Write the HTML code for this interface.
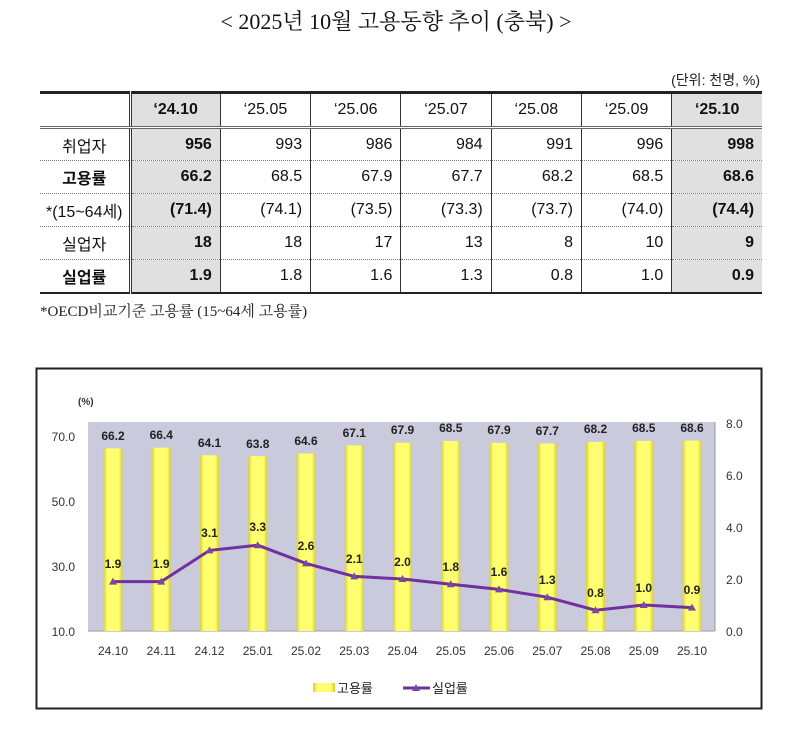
<!DOCTYPE html>
<html><head><meta charset="utf-8"><style>
body{margin:0;width:792px;height:731px;background:#fff;position:relative;overflow:hidden;font-family:"Liberation Sans","Noto Sans CJK KR",sans-serif;}
.title{position:absolute;top:5px;left:0;width:792px;text-align:center;font-family:"Liberation Serif","Noto Serif CJK KR",serif;font-size:22px;color:#111;}
.unit{position:absolute;top:70px;right:32px;font-size:14px;color:#222;}
table{position:absolute;left:40px;top:91px;border-collapse:collapse;font-size:16px;color:#111;table-layout:fixed;width:722px;}
td{height:33px;padding:0 8px;text-align:right;border-left:1px solid #333;border-bottom:1px dotted #777;box-sizing:border-box;white-space:nowrap;overflow:hidden;}
td.h{text-align:center;border-left:none;padding:0;}
tr.hd td{text-align:center;border-bottom:3px double #666;height:35px;}
tr.first{border-top:3px solid #222;}
tr.last td{border-bottom:2px solid #222;}
td.g{background:#e0e0e0;font-weight:bold;}
td.sep{border-left:3px double #333;}
.b{font-weight:bold;}
.note{position:absolute;top:300px;left:40px;font-family:"Liberation Serif","Noto Serif CJK KR",serif;font-size:15px;color:#222;}
svg{position:absolute;left:0;top:0;}
</style></head><body>
<div class="title">&lt; 2025년 10월 고용동향 추이 (충북) &gt;</div>
<div class="unit">(단위: 천명, %)</div>
<table>
<colgroup><col style="width:90px"><col span="7" style="width:90.3px"></colgroup>
<tr class="hd first"><td class="h"></td><td class="g sep">‘24.10</td><td>‘25.05</td><td>‘25.06</td><td>‘25.07</td><td>‘25.08</td><td>‘25.09</td><td class="g">‘25.10</td></tr>
<tr><td class="h">취업자</td><td class="g sep">956</td><td>993</td><td>986</td><td>984</td><td>991</td><td>996</td><td class="g">998</td></tr>
<tr><td class="h b">고용률</td><td class="g sep">66.2</td><td>68.5</td><td>67.9</td><td>67.7</td><td>68.2</td><td>68.5</td><td class="g">68.6</td></tr>
<tr><td class="h">*(15~64세)</td><td class="g sep">(71.4)</td><td>(74.1)</td><td>(73.5)</td><td>(73.3)</td><td>(73.7)</td><td>(74.0)</td><td class="g">(74.4)</td></tr>
<tr><td class="h">실업자</td><td class="g sep">18</td><td>18</td><td>17</td><td>13</td><td>8</td><td>10</td><td class="g">9</td></tr>
<tr class="last"><td class="h b">실업률</td><td class="g sep">1.9</td><td>1.8</td><td>1.6</td><td>1.3</td><td>0.8</td><td>1.0</td><td class="g">0.9</td></tr>
</table>
<div class="note">*OECD비교기준 고용률 (15~64세 고용률)</div>
<svg width="792" height="731" font-family="Liberation Sans, Noto Sans CJK KR, sans-serif">
<defs><linearGradient id="yb" x1="0" x2="1"><stop offset="0" stop-color="#d8cc40"/><stop offset="0.2" stop-color="#ffff70"/><stop offset="0.8" stop-color="#ffff70"/><stop offset="1" stop-color="#d8cc40"/></linearGradient></defs>
<rect x="36.5" y="368.5" width="725" height="340" fill="#fff" stroke="#222" stroke-width="2"/>
<rect x="88" y="422" width="627" height="209" fill="#c9cbdd"/>
<line x1="88" y1="631" x2="715" y2="631" stroke="#999"/>
<line x1="715" y1="422" x2="715" y2="631" stroke="#999"/>
<text x="78" y="405" font-size="10" font-weight="bold" fill="#333">(%)</text>
<g font-size="12" fill="#333" text-anchor="end">
<text x="75" y="441">70.0</text><text x="75" y="506">50.0</text><text x="75" y="571">30.0</text><text x="75" y="636">10.0</text></g>
<g font-size="12" fill="#333">
<text x="726" y="428">8.0</text><text x="726" y="480">6.0</text><text x="726" y="532">4.0</text><text x="726" y="584">2.0</text><text x="726" y="636">0.0</text></g>
<g fill="url(#yb)">
<rect x="103.5" y="448.35" width="19" height="182.65"/>
<rect x="151.75" y="447.7" width="19" height="183.3"/>
<rect x="200" y="455.2" width="19" height="175.8"/>
<rect x="248.25" y="456.15" width="19" height="174.85"/>
<rect x="296.5" y="453.55" width="19" height="177.45"/>
<rect x="344.75" y="445.4" width="19" height="185.6"/>
<rect x="393" y="442.8" width="19" height="188.2"/>
<rect x="441.25" y="440.9" width="19" height="190.1"/>
<rect x="489.5" y="442.8" width="19" height="188.2"/>
<rect x="537.75" y="443.5" width="19" height="187.5"/>
<rect x="586" y="441.85" width="19" height="189.15"/>
<rect x="634.25" y="440.9" width="19" height="190.1"/>
<rect x="682.5" y="440.55" width="19" height="190.45"/>
</g>
<g font-size="12" font-weight="bold" text-anchor="middle" fill="#222">
<text x="113" y="440">66.2</text>
<text x="161.25" y="439">66.4</text>
<text x="209.5" y="447">64.1</text>
<text x="257.75" y="448">63.8</text>
<text x="306" y="445">64.6</text>
<text x="354.25" y="437">67.1</text>
<text x="402.5" y="434">67.9</text>
<text x="450.75" y="432">68.5</text>
<text x="499" y="434">67.9</text>
<text x="547.25" y="435">67.7</text>
<text x="595.5" y="433">68.2</text>
<text x="643.75" y="432">68.5</text>
<text x="692" y="432">68.6</text>
<text x="113" y="568">1.9</text>
<text x="161.25" y="568">1.9</text>
<text x="209.5" y="537">3.1</text>
<text x="257.75" y="531">3.3</text>
<text x="306" y="550">2.6</text>
<text x="354.25" y="563">2.1</text>
<text x="402.5" y="566">2.0</text>
<text x="450.75" y="571">1.8</text>
<text x="499" y="576">1.6</text>
<text x="547.25" y="584">1.3</text>
<text x="595.5" y="597">0.8</text>
<text x="643.75" y="592">1.0</text>
<text x="692" y="594">0.9</text>
</g>
<g font-size="12" text-anchor="middle" fill="#333">
<text x="113" y="655">24.10</text><text x="161.25" y="655">24.11</text><text x="209.5" y="655">24.12</text><text x="257.75" y="655">25.01</text><text x="306" y="655">25.02</text><text x="354.25" y="655">25.03</text><text x="402.5" y="655">25.04</text><text x="450.75" y="655">25.05</text><text x="499" y="655">25.06</text><text x="547.25" y="655">25.07</text><text x="595.5" y="655">25.08</text><text x="643.75" y="655">25.09</text><text x="692" y="655">25.10</text>
</g>
<polyline points="113,581.6 161.25,581.6 209.5,550.4 257.75,545.2 306,563.4 354.25,576.4 402.5,579 450.75,584.2 499,589.4 547.25,597.2 595.5,610.2 643.75,605 692,607.6" fill="none" stroke="#7030a0" stroke-width="3"/>
<g fill="#7a4a9a">
<polygon points="113,577.6 109,584.6 117,584.6"/>
<polygon points="161.25,577.6 157.25,584.6 165.25,584.6"/>
<polygon points="209.5,546.4 205.5,553.4 213.5,553.4"/>
<polygon points="257.75,541.2 253.75,548.2 261.75,548.2"/>
<polygon points="306,559.4 302,566.4 310,566.4"/>
<polygon points="354.25,572.4 350.25,579.4 358.25,579.4"/>
<polygon points="402.5,575 398.5,582 406.5,582"/>
<polygon points="450.75,580.2 446.75,587.2 454.75,587.2"/>
<polygon points="499,585.4 495,592.4 503,592.4"/>
<polygon points="547.25,593.2 543.25,600.2 551.25,600.2"/>
<polygon points="595.5,606.2 591.5,613.2 599.5,613.2"/>
<polygon points="643.75,601 639.75,608 647.75,608"/>
<polygon points="692,603.6 688,610.6 696,610.6"/>
</g>
<rect x="313" y="683" width="22" height="9" fill="url(#yb)"/>
<text x="337" y="693" font-size="13" fill="#222">고용률</text>
<line x1="403" y1="688" x2="430" y2="688" stroke="#7030a0" stroke-width="3"/>
<polygon points="416,684 412,691 420,691" fill="#7a4a9a"/>
<text x="432" y="693" font-size="13" fill="#222">실업률</text>
</svg>
</body></html>
